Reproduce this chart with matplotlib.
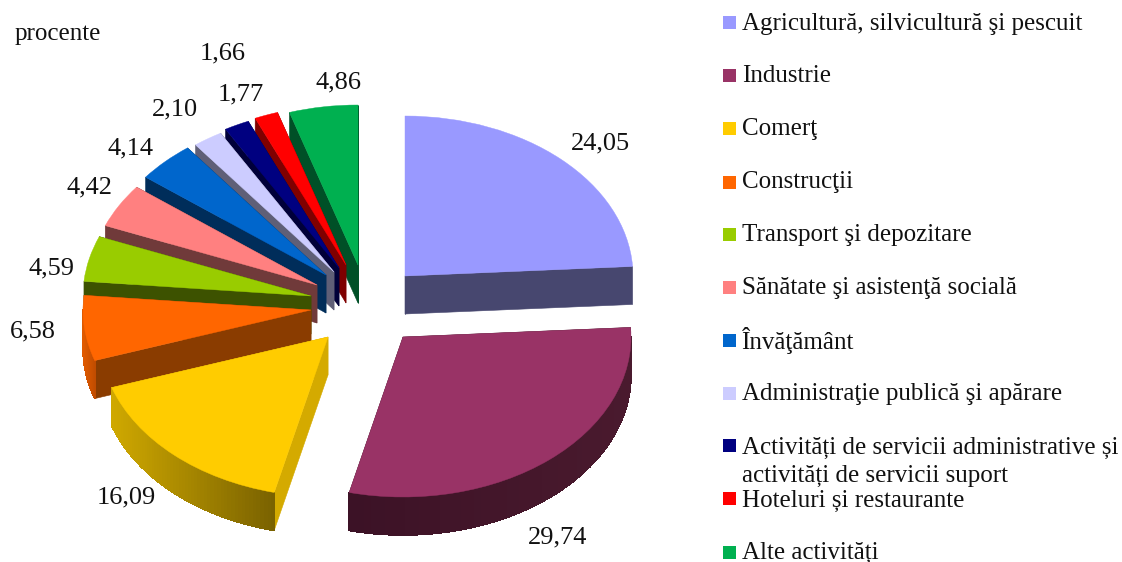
import numpy as np
import matplotlib
matplotlib.use("Agg")
import matplotlib.pyplot as plt
from matplotlib.collections import PolyCollection
from matplotlib.colors import to_rgb
from matplotlib.patches import Polygon, Rectangle, Wedge
from matplotlib.transforms import Affine2D

plt.rcParams["font.family"] = ["Liberation Serif", "DejaVu Serif"]

categories = [
    "Agricultură, silvicultură şi pescuit",
    "Industrie",
    "Comerţ",
    "Construcţii",
    "Transport şi depozitare",
    "Sănătate şi asistenţă socială",
    "Învăţământ",
    "Administraţie publică şi apărare",
    "Activități de servicii administrative și\nactivități de servicii suport",
    "Hoteluri și restaurante",
    "Alte activități",
]
values = [24.05, 29.74, 16.09, 6.58, 4.59, 4.42, 4.14, 2.10, 1.77, 1.66, 4.86]
value_labels = ["24,05", "29,74", "16,09", "6,58", "4,59", "4,42", "4,14", "2,10", "1,77", "1,66", "4,86"]

colors = ["#9999FF", "#993366", "#FFCC00", "#FF6600", "#99CC00", "#FF8080",
          "#0066CC", "#CCCCFF", "#000080", "#FF0000", "#00B050"]
wall_colors = ["#47476F", "#431628", "#D4AA00", "#8A3C00", "#3D5200", "#703A3A",
               "#002D5A", "#5F5F77", "#000039", "#7F0000", "#005027"]
# outer wall shading, left end to right end
outer_left = ["#47476F", "#3C1226", "#CFA800", "#E05A00", "#3D5200", "#703A3A",
              "#002D5A", "#5F5F77", "#000039", "#7F0000", "#005027"]
outer_right = ["#47476F", "#4A1A2E", "#7A6200", "#C04C00", "#3D5200", "#703A3A",
               "#002D5A", "#5F5F77", "#000039", "#7F0000", "#005027"]

# where each exploded slice has its point, in pixels
tips = [(405, 276), (403, 337), (328, 337), (311, 310), (311, 296), (317, 285),
        (326, 275), (334, 272), (339, 268), (346, 265), (358, 265)]
draw_order = [10, 9, 8, 7, 6, 5, 4, 3, 0, 2, 1]
rx, ry, depth = 228, 160, 38

label_xy = [(600, 143), (558, 537), (126, 497), (33, 331), (52, 268), (90, 187),
            (131, 148), (175, 109), (241, 94), (223, 53), (339, 82)]
legend_y = [22, 75, 128, 182, 234, 287, 340, 393, 445, 498, 552]
text_y = [24, 76, 129, 182, 235, 288, 341, 394, 462, 501, 553]

fig = plt.figure(figsize=(11.22, 5.62), dpi=100)
ax = fig.add_axes([0, 0, 1, 1])
ax.set_xlim(0, 1122)
ax.set_ylim(562, 0)
ax.axis("off")

bounds = np.cumsum([0] + values) * 3.6  # clockwise from 12 o'clock


def rim(tip, angles, drop=0):
    a = np.radians(angles)
    return np.column_stack([tip[0] + rx * np.sin(a), tip[1] + drop - ry * np.cos(a)])


for i in draw_order:
    t0, t1 = bounds[i], bounds[i + 1]
    tip = tips[i]

    # radial walls
    for edge in (t0, t1):
        p = rim(tip, [edge])[0]
        wall = [tip, p, (p[0], p[1] + depth), (tip[0], tip[1] + depth)]
        ax.add_patch(Polygon(wall, fc=wall_colors[i], ec=wall_colors[i], lw=0.4))

    # curved outer wall, only the part facing front
    lo, hi = max(t0, 90), min(t1, 270)
    if hi > lo:
        th = np.linspace(lo, hi, 60)
        top = rim(tip, th)
        bottom = rim(tip, th, depth)
        quads = [[top[k], top[k + 1], bottom[k + 1], bottom[k]] for k in range(len(th) - 1)]
        x_mid = np.array([q[0][0] for q in quads])
        frac = (x_mid - x_mid.min()) / max(x_mid.max() - x_mid.min(), 1)
        c0, c1 = np.array(to_rgb(outer_left[i])), np.array(to_rgb(outer_right[i]))
        seg = [c0 + (c1 - c0) * f for f in frac]
        ax.add_collection(PolyCollection(quads, facecolors=seg, edgecolors=seg,
                                         linewidths=0.5, antialiaseds=False))

    # top face
    tr = Affine2D().scale(rx, -ry).translate(*tip) + ax.transData
    ax.add_patch(Wedge((0, 0), 1, 90 - t1, 90 - t0, transform=tr,
                       fc=colors[i], ec=colors[i], lw=0.3))

for lab, (x, y) in zip(value_labels, label_xy):
    ax.text(x, y, lab, fontsize=19, ha="center", va="center", color="#111111")

ax.text(15, 34, "procente", fontsize=18, ha="left", va="center", color="#111111")

for i, name in enumerate(categories):
    ax.add_patch(Rectangle((723, legend_y[i] - 6.5), 13, 13, fc=colors[i], ec="none"))
    ax.text(742, text_y[i], name, fontsize=18, ha="left", va="center",
            color="#111111", linespacing=1.3)

fig.savefig("out.png", dpi=100)
